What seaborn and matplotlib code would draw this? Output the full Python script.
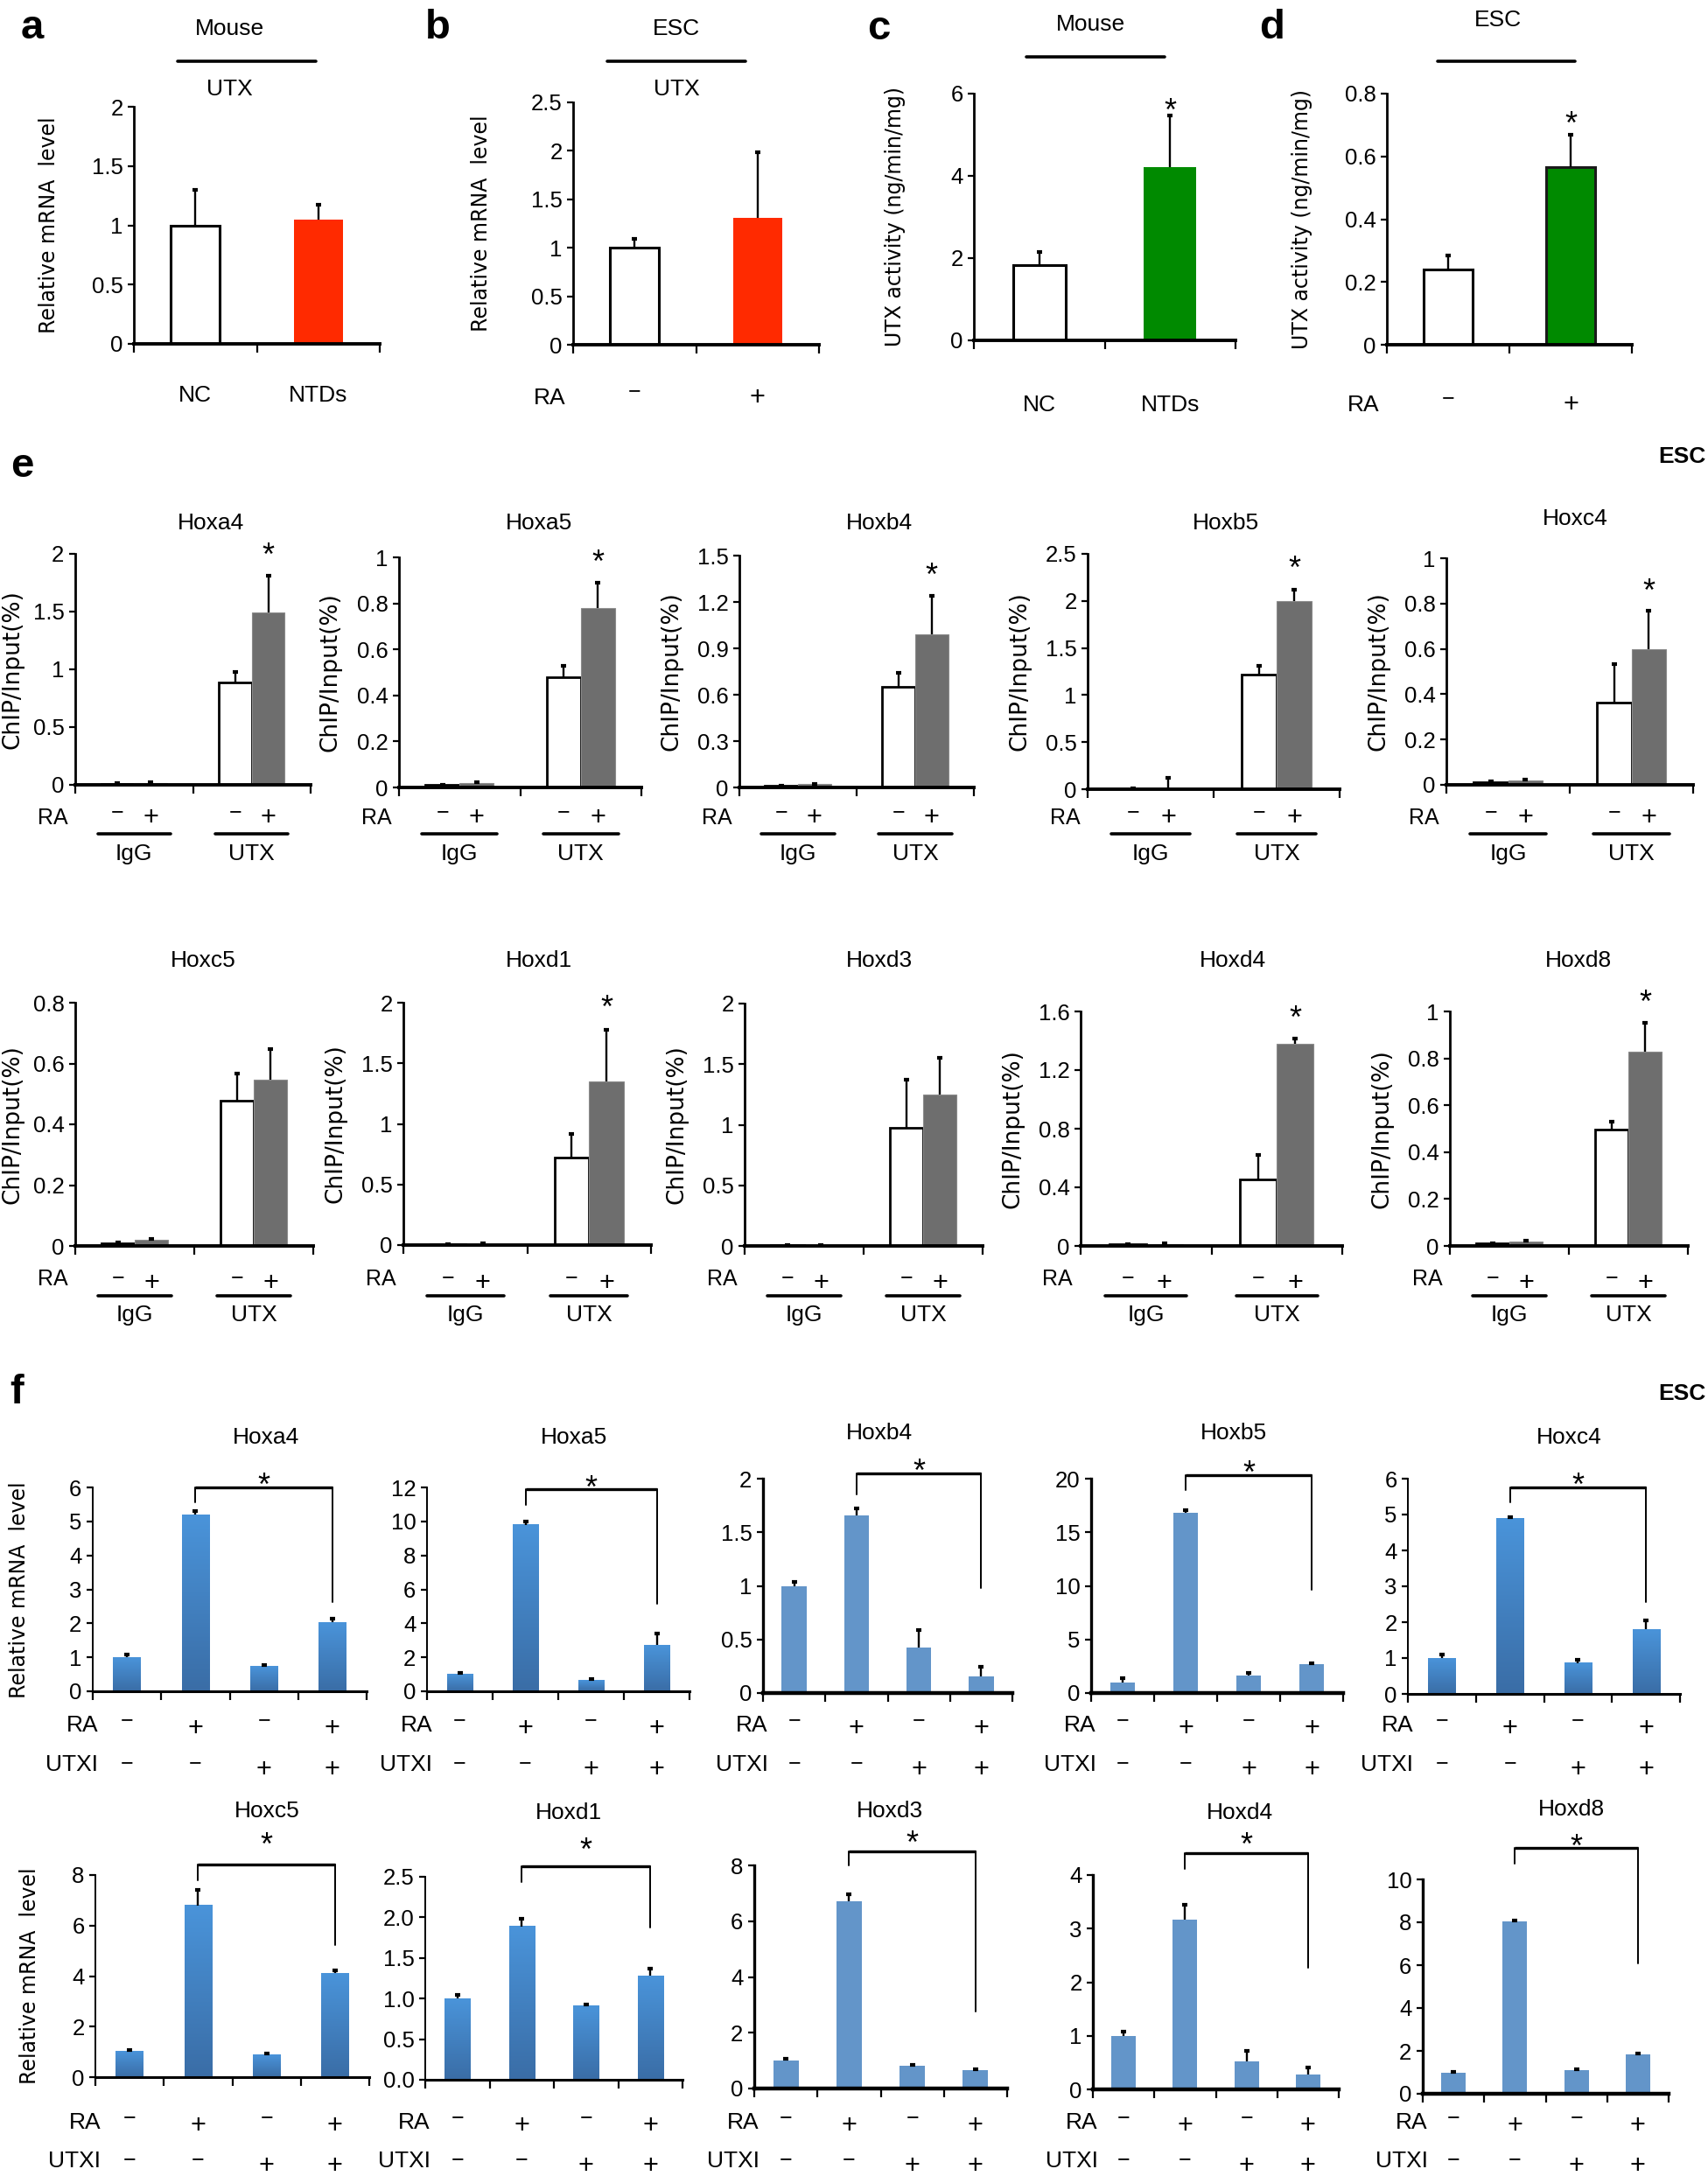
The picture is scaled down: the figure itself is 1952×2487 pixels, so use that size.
import numpy as np
import pandas as pd
import matplotlib
matplotlib.use('Agg')
import matplotlib.pyplot as plt
import matplotlib.transforms as mtrans
from matplotlib.colors import LinearSegmentedColormap
from matplotlib.lines import Line2D
import seaborn as sns

W, H = 1952, 2487

# ---------------- data ----------------
# panels a-d
a_labels = ['NC', 'NTDs']
a_means = [1.00, 1.05]
a_errs = [0.30, 0.12]

b_labels = ['−', '+']
b_means = [1.00, 1.31]
b_errs = [0.09, 0.68]

c_labels = ['NC', 'NTDs']
c_means = [1.83, 4.22]
c_errs = [0.32, 1.25]

d_labels = ['−', '+']
d_means = [0.240, 0.565]
d_errs = [0.045, 0.103]

genes = ['Hoxa4', 'Hoxa5', 'Hoxb4', 'Hoxb5', 'Hoxc4',
         'Hoxc5', 'Hoxd1', 'Hoxd3', 'Hoxd4', 'Hoxd8']

# panel e: ChIP, bars = IgG-, IgG+, UTX-, UTX+
chip_groups = ['IgG', 'IgG', 'UTX', 'UTX']
chip_ra = ['−', '+', '−', '+']
e_means = [
    [0.010, 0.015, 0.89, 1.49],
    [0.010, 0.018, 0.48, 0.78],
    [0.010, 0.020, 0.65, 0.99],
    [0.004, 0.010, 1.22, 2.00],
    [0.012, 0.020, 0.364, 0.597],
    [0.010, 0.020, 0.478, 0.547],
    [0.006, 0.008, 0.724, 1.349],
    [0.006, 0.006, 0.975, 1.25],
    [0.010, 0.010, 0.452, 1.379],
    [0.010, 0.018, 0.498, 0.83],
]
e_errs = [
    [0.002, 0.004, 0.09, 0.32],
    [0.002, 0.004, 0.05, 0.11],
    [0.002, 0.004, 0.09, 0.25],
    [0.001, 0.11, 0.09, 0.12],
    [0.002, 0.005, 0.17, 0.17],
    [0.002, 0.003, 0.09, 0.10],
    [0.002, 0.006, 0.19, 0.43],
    [0.002, 0.003, 0.40, 0.30],
    [0.002, 0.008, 0.17, 0.036],
    [0.002, 0.004, 0.032, 0.12],
]
e_ymax = [2, 1, 1.5, 2.5, 1, 0.8, 2, 2, 1.6, 1]
e_step = [0.5, 0.2, 0.3, 0.5, 0.2, 0.2, 0.5, 0.5, 0.4, 0.2]
e_sig = [True, True, True, True, True, False, True, False, True, True]

# panel f: qPCR, bars = (RA, UTXI) -/-, +/-, -/+, +/+
f_ra = ['−', '+', '−', '+']
f_utxi = ['−', '−', '+', '+']
f_means = [
    [1.00, 5.20, 0.74, 2.03],
    [1.03, 9.80, 0.65, 2.72],
    [0.995, 1.655, 0.424, 0.155],
    [0.98, 16.8, 1.63, 2.69],
    [1.00, 4.90, 0.86, 1.80],
    [1.01, 6.80, 0.875, 4.11],
    [1.00, 1.89, 0.91, 1.28],
    [1.00, 6.70, 0.82, 0.67],
    [1.00, 3.17, 0.53, 0.28],
    [0.99, 8.05, 1.09, 1.82],
]
f_errs = [
    [0.07, 0.11, 0.03, 0.11],
    [0.07, 0.20, 0.05, 0.68],
    [0.045, 0.065, 0.166, 0.09],
    [0.38, 0.27, 0.22, 0.11],
    [0.10, 0.03, 0.10, 0.24],
    [0.06, 0.60, 0.065, 0.13],
    [0.05, 0.09, 0.02, 0.09],
    [0.07, 0.26, 0.02, 0.03],
    [0.08, 0.28, 0.19, 0.13],
    [0.03, 0.03, 0.04, 0.07],
]
f_ymax = [6, 12, 2, 20, 6, 8, 2.5, 8, 4, 10]
f_step = [1, 2, 0.5, 5, 1, 2, 0.5, 2, 1, 2]
f_bracket = [6.0, 11.9, 2.05, 20.35, 5.76, 8.42, 2.63, 8.5, 4.41, 11.45]
f_left_leg = [5.57, 10.97, 1.85, 18.9, 5.33, 7.8, 2.435, 8.0, 4.12, 10.75]
f_right_leg = [2.63, 5.16, 0.98, 9.67, 2.57, 5.24, 1.87, 2.76, 2.27, 6.1]
f_star = [6.35, 12.55, 2.16, 21.4, 6.08, 9.57, 2.95, 9.15, 4.75, 11.97]
f_gradient = [True, True, False, False, True, True, True, False, False, False]

# ---------------- layout (reference pixels: left, right, top, bottom) ----------------
box_ad = [(153, 434, 122, 393), (655, 936, 117, 394),
          (1113, 1412, 107, 389), (1585, 1865, 107, 394)]
box_e = [(86, 355, 633, 897), (456, 733, 637, 900), (845, 1113, 635, 900),
         (1243, 1531, 633, 902), (1653, 1935, 638, 897),
         (86, 358, 1146, 1424), (461, 744, 1146, 1423), (851, 1123, 1147, 1424),
         (1235, 1534, 1156, 1424), (1657, 1929, 1156, 1424)]
title_e = [(241, 598), (616, 598), (1005, 598), (1401, 598), (1800, 593),
           (232, 1098), (616, 1098), (1005, 1098), (1409, 1098), (1804, 1098)]
box_f = [(106, 419, 1700, 1933), (488, 788, 1700, 1933), (872, 1157, 1690, 1935),
         (1247, 1535, 1690, 1935), (1609, 1920, 1690, 1936),
         (109, 422, 2143, 2374), (486, 780, 2145, 2377), (862, 1151, 2132, 2387),
         (1249, 1530, 2143, 2388), (1626, 1907, 2148, 2393)]
title_f = [(304, 1643), (656, 1643), (1005, 1638), (1410, 1638), (1793, 1643),
           (305, 2070), (650, 2072), (1017, 2070), (1417, 2072), (1796, 2068)]
e_rows = [(935, 935, 953, 976), (1462, 1467, 1481, 1503)]  # RA, signs, line, IgG/UTX
f_rows = [(1972, 2017), (2426, 2470)]                       # RA, UTXI

NARROW = ['Liberation Sans Narrow', 'Liberation Sans', 'DejaVu Sans']
WIDE = ['DejaVu Sans']
TICK_FS = 18.5
LAB_FS = 18
TITLE_FS = 19
SIGN_FS = 22
STAR_DROP = 13  # asterisk glyph sits high in its box; nudge down (pixels)

sns.set_theme(style='ticks')
plt.rcParams['font.family'] = NARROW
plt.rcParams['axes.edgecolor'] = 'black'
plt.rcParams['xtick.color'] = 'black'
plt.rcParams['ytick.color'] = 'black'
plt.rcParams['text.color'] = 'black'


def fy(y):
    return 1 - y / H


def add_box(fig, box):
    l, r, t, b = box
    return fig.add_axes([l / W, 1 - b / H, (r - l) / W, (b - t) / H])


def style_axes(ax, n, ymax, step, fmt='{:g}', spine_w=2.0):
    ticks = np.arange(0, ymax + step / 2, step)
    ax.set_ylim(0, ymax)
    ax.set_yticks(ticks)
    ax.set_yticklabels([fmt.format(t) for t in ticks])
    ax.set_xlim(-0.5, n - 0.5)
    ax.set_xticks([])
    ax.set_xticks(np.arange(-0.5, n), minor=True)
    ax.tick_params(axis='x', which='minor', direction='out', length=7, width=1.6)
    ax.tick_params(axis='y', direction='out', length=5, width=1.6,
                   labelsize=TICK_FS, pad=4)
    ax.set_xlabel('')
    ax.set_ylabel('')
    ax.set_facecolor('white')
    sns.despine(ax=ax)
    ax.spines['left'].set_linewidth(spine_w)
    ax.spines['bottom'].set_linewidth(spine_w + 0.8)


def add_errors(ax, xs, means, errs):
    # upper error bars only, with a small cap on top
    _, caps, _ = ax.errorbar(xs, means, yerr=[np.zeros(len(errs)), errs], fmt='none',
                             ecolor='black', elinewidth=1.7, capsize=2, capthick=3,
                             zorder=6)
    if len(caps) == 2:
        caps[0].set_visible(False)


def blend(ax, fig):
    return mtrans.blended_transform_factory(ax.transData, fig.transFigure)


def add_star(ax, fig, x, y):
    tr = mtrans.offset_copy(ax.transData, fig=fig, y=-STAR_DROP, units='dots')
    ax.text(x, y, '*', transform=tr, ha='center', va='center', fontsize=26,
            clip_on=False)


def sign_size(s):
    return SIGN_FS if s == '+' else LAB_FS


fig = plt.figure(figsize=(W / 100, H / 100), dpi=100)
fig.patch.set_facecolor('white')

# ---------------- panels a-d ----------------
ad_sets = [
    (a_labels, a_means, a_errs, 2.0, 0.5, '#FF2A00', False, 'Relative mRNA  level', False),
    (b_labels, b_means, b_errs, 2.5, 0.5, '#FF2A00', False, 'Relative mRNA  level', False),
    (c_labels, c_means, c_errs, 6.0, 2.0, '#008A00', False, 'UTX activity (ng/min/mg)', True),
    (d_labels, d_means, d_errs, 0.8, 0.2, '#008A00', True, 'UTX activity (ng/min/mg)', True),
]
ylab_x_ad = [56, 550, 1023, 1488]
cond_y_ad = [452, 455, 463, 463]
star_ad = [None, None, 5.83, 0.736]

for k, (labels, means, errs, ymax, step, col, edge2, ylab, sig) in enumerate(ad_sets):
    ax = add_box(fig, box_ad[k])
    df = pd.DataFrame({'cond': labels, 'value': means})
    sns.barplot(data=df, x='cond', y='value', hue='cond', dodge=False,
                palette=['white', col], width=0.4, saturation=1,
                legend=False, ax=ax)
    xs = []
    for p in ax.patches:
        cx = p.get_x() + p.get_width() / 2
        xs.append(cx)
        if int(round(cx)) == 0:
            p.set_edgecolor('black')
            p.set_linewidth(2.2)
        elif edge2:
            p.set_edgecolor('#1a1a1a')
            p.set_linewidth(2.2)
        else:
            p.set_edgecolor('none')
    xs = sorted(xs)
    add_errors(ax, xs, means, errs)
    style_axes(ax, len(labels), ymax, step)
    tr = blend(ax, fig)
    for i, lab in enumerate(labels):
        dy = -8 if lab == '−' else 0
        fs = sign_size(lab) if lab in ('−', '+') else LAB_FS + 1
        ax.text(i, fy(cond_y_ad[k] + dy), lab, transform=tr, ha='center',
                va='center', fontsize=fs, clip_on=False)
    if labels[0] == '−':
        ax.text(-0.56, fy(cond_y_ad[k]), 'RA', transform=tr, ha='right',
                va='center', fontsize=LAB_FS + 1)
    if sig:
        add_star(ax, fig, 1, star_ad[k])
    l, r, t, b = box_ad[k]
    fig.text(ylab_x_ad[k] / W, fy((t + b) / 2), ylab, rotation=90, ha='center',
             va='center', fontsize=17, family=WIDE)

headers = [('Mouse', 262, 33, 203, 361, 70, True),
           ('ESC', 773, 33, 694, 852, 70, True),
           ('Mouse', 1246, 28, 1173, 1331, 65, False),
           ('ESC', 1712, 23, 1643, 1800, 70, False)]
for txt, tx, ty, x0, x1, ly, utx in headers:
    fig.text(tx / W, fy(ty), txt, ha='center', va='center', fontsize=TITLE_FS)
    fig.add_artist(Line2D([x0 / W, x1 / W], [fy(ly), fy(ly)], color='black',
                          lw=2.6, transform=fig.transFigure))
    if utx:
        fig.text(tx / W, fy(102), 'UTX', ha='center', va='center', fontsize=TITLE_FS)

for letter, x, y in [('a', 37, 32), ('b', 500, 32), ('c', 1004, 33),
                     ('d', 1454, 32), ('e', 25, 533), ('f', 19, 1592)]:
    fig.text(x / W, fy(y), letter, ha='center', va='center', fontsize=34,
             fontweight='bold', family=['Liberation Sans', 'DejaVu Sans'])
for y in (522, 1593):
    fig.text(1922 / W, fy(y), 'ESC', ha='center', va='center', fontsize=19,
             fontweight='bold')

# ---------------- panel e ----------------
for i, gene in enumerate(genes):
    ax = add_box(fig, box_e[i])
    df = pd.DataFrame({'group': chip_groups, 'ra': chip_ra,
                       'value': e_means[i], 'err': e_errs[i]})
    sns.barplot(data=df, x='group', y='value', hue='ra', hue_order=['−', '+'],
                palette={'−': 'white', '+': '#6E6E6E'}, width=0.56,
                saturation=1, legend=False, ax=ax)
    tr = blend(ax, fig)
    ra_y, sign_y, line_y, grp_y = e_rows[i // 5]
    xs, ms, es = [], [], []
    for p in ax.patches:
        cx = p.get_x() + p.get_width() / 2
        gi = int(round(cx))
        ra = '−' if cx < gi else '+'
        row = df[(df['group'] == ['IgG', 'UTX'][gi]) & (df['ra'] == ra)].iloc[0]
        xs.append(cx)
        ms.append(row['value'])
        es.append(row['err'])
        if ra == '−':
            p.set_edgecolor('black')
            p.set_linewidth(2.0)
        else:
            p.set_edgecolor('#8a8a8a')
            p.set_linewidth(0.8)
        ax.text(cx, fy(sign_y - (7 if ra == '−' else 0)), ra, transform=tr,
                ha='center', va='center', fontsize=sign_size(ra), clip_on=False)
    add_errors(ax, xs, ms, es)
    style_axes(ax, 2, e_ymax[i], e_step[i])
    ax.text(-0.56, fy(ra_y), 'RA', transform=tr, ha='right', va='center',
            fontsize=LAB_FS)
    for gi, g in enumerate(['IgG', 'UTX']):
        ax.plot([gi - 0.31, gi + 0.31], [fy(line_y)] * 2, transform=tr,
                color='black', lw=2.6, clip_on=False)
        ax.text(gi, fy(grp_y), g, transform=tr, ha='center', va='center',
                fontsize=LAB_FS + 1)
    if e_sig[i]:
        top = max(m + e for m, e in zip(ms, es))
        add_star(ax, fig, 1.14, top + 0.13 * e_ymax[i])
    tx, ty = title_e[i]
    fig.text(tx / W, fy(ty), gene, ha='center', va='center', fontsize=TITLE_FS)
    l, r, t, b = box_e[i]
    fig.text(max(l - 78, 15) / W, fy((t + b) / 2), 'ChIP/Input(%)', rotation=90,
             ha='center', va='center', fontsize=19, family=WIDE)

# ---------------- panel f ----------------
grad_cmap = LinearSegmentedColormap.from_list('barfade', ['#3A6DA6', '#4A94DA'])
grad = np.linspace(0, 1, 256).reshape(-1, 1)
for i, gene in enumerate(genes):
    ax = add_box(fig, box_f[i])
    conds = [f'{a}/{u}' for a, u in zip(f_ra, f_utxi)]
    df = pd.DataFrame({'cond': conds, 'value': f_means[i], 'err': f_errs[i]})
    sns.barplot(data=df, x='cond', y='value', color='#6395C9', width=0.4,
                saturation=1, ax=ax)
    xs = []
    for p in ax.patches:
        p.set_edgecolor('none')
        cx = p.get_x() + p.get_width() / 2
        xs.append(cx)
        if f_gradient[i]:
            x0, w, h = p.get_x(), p.get_width(), p.get_height()
            ax.imshow(grad, extent=(x0, x0 + w, 0, h), origin='lower',
                      aspect='auto', cmap=grad_cmap, zorder=p.get_zorder() + 0.1)
    xs = sorted(xs)
    add_errors(ax, xs, f_means[i], f_errs[i])
    fmt = '{:.1f}' if gene == 'Hoxd1' and i >= 5 else '{:g}'
    style_axes(ax, 4, f_ymax[i], f_step[i], fmt=fmt,
               spine_w=1.4 if f_gradient[i] else 2.4)
    # significance bracket between RA+ and RA+/UTXI+
    ax.plot([1, 1], [f_left_leg[i], f_bracket[i]], color='black', lw=1.4,
            clip_on=False, zorder=7)
    ax.plot([1, 3], [f_bracket[i], f_bracket[i]], color='black', lw=2.4,
            clip_on=False, zorder=7, solid_capstyle='butt')
    ax.plot([3, 3], [f_bracket[i], f_right_leg[i]], color='black', lw=1.4,
            clip_on=False, zorder=7)
    add_star(ax, fig, 2, f_star[i])
    tr = blend(ax, fig)
    ra_y, ux_y = f_rows[i // 5]
    ax.text(-0.42, fy(ra_y), 'RA', transform=tr, ha='right', va='center',
            fontsize=LAB_FS + 1)
    ax.text(-0.42, fy(ux_y), 'UTXI', transform=tr, ha='right', va='center',
            fontsize=LAB_FS + 1)
    for j in range(4):
        s1, s2 = f_ra[j], f_utxi[j]
        ax.text(j, fy(ra_y - (6 if s1 == '−' else -4)), s1, transform=tr,
                ha='center', va='center', fontsize=sign_size(s1))
        ax.text(j, fy(ux_y - (2 if s2 == '−' else -6)), s2, transform=tr,
                ha='center', va='center', fontsize=sign_size(s2))
    tx, ty = title_f[i]
    fig.text(tx / W, fy(ty), gene, ha='center', va='center', fontsize=TITLE_FS)

fig.text(22 / W, fy(1817), 'Relative mRNA  level', rotation=90, ha='center',
         va='center', fontsize=17, family=WIDE)
fig.text(34 / W, fy(2258), 'Relative mRNA  level', rotation=90, ha='center',
         va='center', fontsize=17, family=WIDE)

fig.savefig('out.png', dpi=100, facecolor='white')
